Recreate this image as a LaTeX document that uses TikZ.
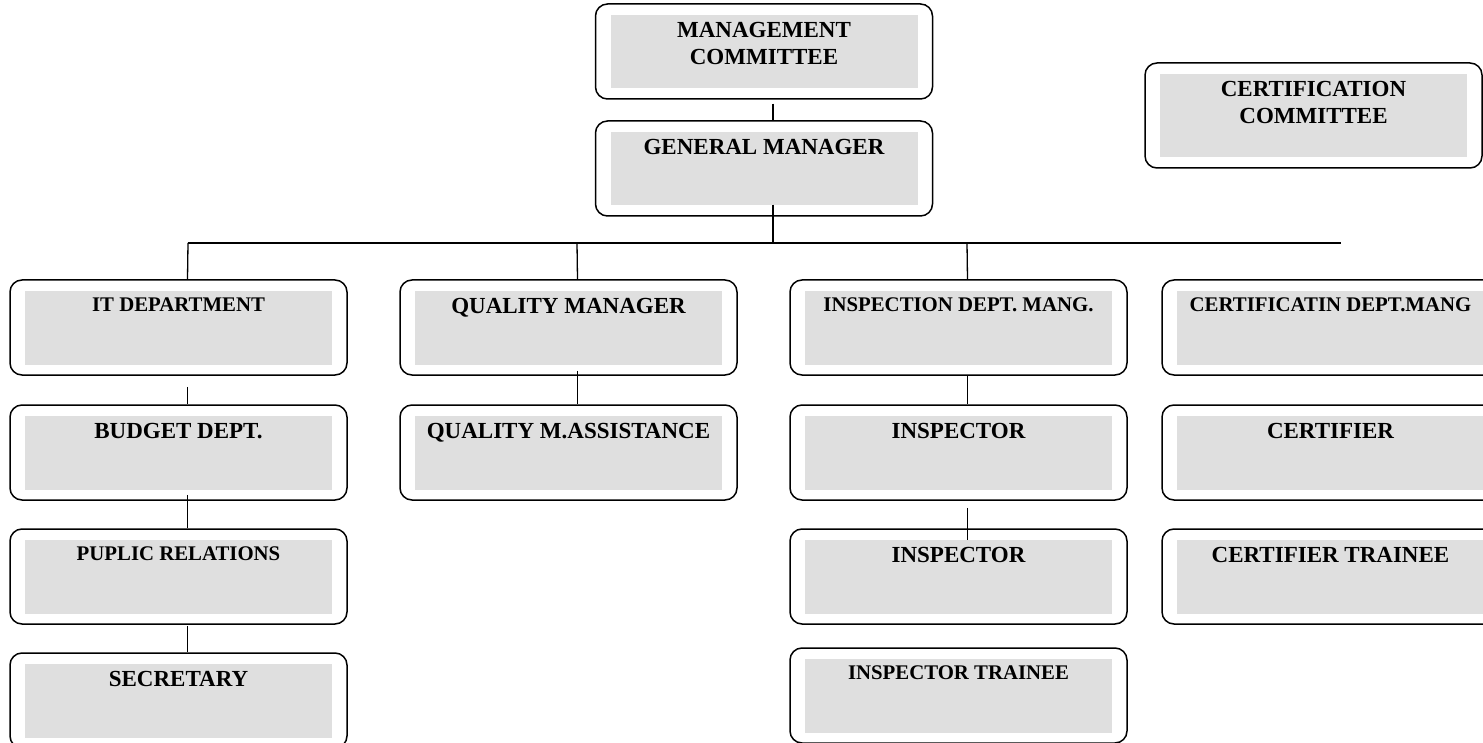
\documentclass[tikz,border=0pt]{standalone}
\usepackage{fontspec}
\setmainfont{Liberation Serif}
\definecolor{boxgray}{HTML}{DFDFDF}
\newcommand{\bigfnt}{\fontsize{23}{27.5}\selectfont\bfseries}
\newcommand{\smallfnt}{\fontsize{20.8}{25}\selectfont\bfseries}
\tikzset{
  orgbox/.style={draw=black, line width=1.5pt, rounded corners=12pt,
    minimum width=337pt, inner xsep=0pt, inner ysep=0pt, align=center,
    font=\bigfnt, text height=33.2pt, text depth=61.8pt,
    path picture={\fill[boxgray, sharp corners]
      ([shift={(15pt,-11pt)}]path picture bounding box.north west) rectangle
      ([shift={(-15pt,10.5pt)}]path picture bounding box.south east);}},
  smalltext/.style={font=\smallfnt, text height=31.8pt, text depth=63.2pt},
  twoline/.style={text height=60.7pt, text depth=#1},
  link/.style={draw=black, line width=1.3pt}
}
\begin{document}
\begin{tikzpicture}[x=1pt,y=-1pt]
\useasboundingbox (0,0) rectangle (1483,743);
\clip (0,0) rectangle (1483,743);
% top
\node[orgbox, twoline=34.3pt] (mc) at (764,51.5) {MANAGEMENT\\COMMITTEE};
\node[orgbox] (gm) at (764,168.5) {GENERAL MANAGER};
\node[orgbox, twoline=44.3pt] (cc) at (1313.5,115.5) {CERTIFICATION\\COMMITTEE};
% column 1
\node[orgbox, smalltext] (it) at (178.5,327.5) {IT DEPARTMENT};
\node[orgbox] (bud) at (178.5,452.5) {BUDGET DEPT.};
\node[orgbox, smalltext] (pr) at (178.5,576.5) {PUPLIC RELATIONS};
\node[orgbox] (sec) at (178.5,700.5) {SECRETARY};
% column 2
\node[orgbox] (qm) at (568.5,327.5) {QUALITY MANAGER};
\node[orgbox] (qma) at (568.5,452.5) {QUALITY M.ASSISTANCE};
% column 3
\node[orgbox, smalltext] (ins) at (958.5,327.5) {INSPECTION DEPT. MANG.};
\node[orgbox] (insa) at (958.5,452.5) {INSPECTOR};
\node[orgbox] (insb) at (958.5,576.5) {INSPECTOR};
\node[orgbox, smalltext] (trn) at (958.5,695.5) {INSPECTOR TRAINEE};
% column 4
\node[orgbox, smalltext] (cdm) at (1330.5,327.5) {CERTIFICATIN DEPT.MANG};
\node[orgbox] (cer) at (1330.5,452.5) {CERTIFIER};
\node[orgbox] (cert) at (1330.5,576.5) {CERTIFIER TRAINEE};
% connectors
\coordinate (barm) at (773,243);
\coordinate (barl) at (188,243);
\coordinate (barr) at (1341,243);
\coordinate (barq) at (577,243);
\coordinate (bari) at (967,243);
\draw[link] ([shift={(9pt,-4pt)}]mc.south) -- ([xshift=9pt]gm.north);
\draw[link] ([shift={(9pt,12pt)}]gm.south) -- (barm);
\draw[link] (barl) -- (barr);
\draw[link] (barl) -- ([xshift=9pt]it.north);
\draw[link] (barq) -- ([xshift=9pt]qm.north);
\draw[link] (bari) -- ([xshift=9pt]ins.north);
\draw[link] ([shift={(9pt,-11pt)}]it.south) -- ([xshift=9pt]bud.north);
\draw[link] ([shift={(9pt,6pt)}]bud.south) -- ([xshift=9pt]pr.north);
\draw[link] ([shift={(9pt,-1pt)}]pr.south) -- ([xshift=9pt]sec.north);
\draw[link] ([shift={(9pt,5pt)}]qm.south) -- ([xshift=9pt]qma.north);
\draw[link] ([shift={(9pt,0pt)}]ins.south) -- ([xshift=9pt]insa.north);
\draw[link] ([shift={(9pt,-7pt)}]insa.south) -- ([shift={(9pt,-12pt)}]insb.north);
\end{tikzpicture}
\end{document}
